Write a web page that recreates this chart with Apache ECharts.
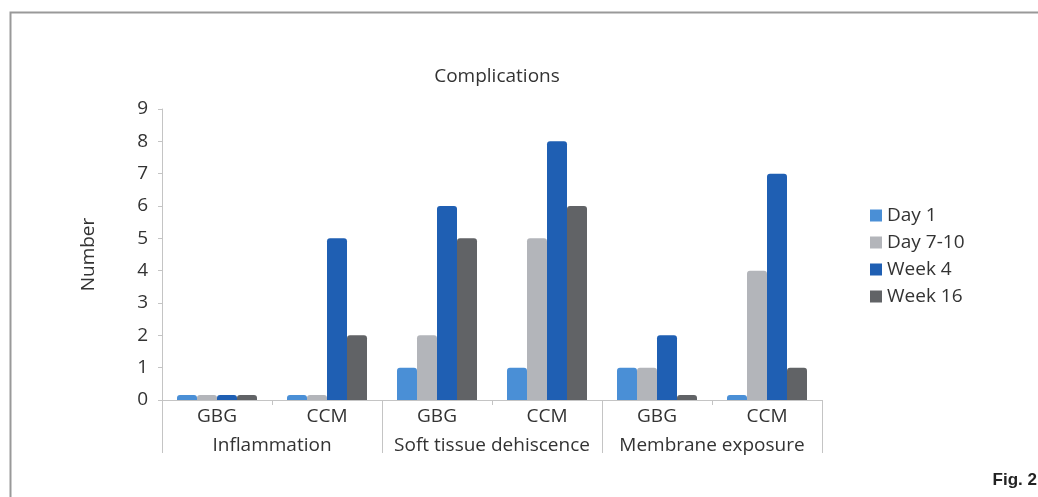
<!DOCTYPE html>
<html>
<head>
<meta charset="UTF-8">
<title>Complications</title>
<script src="https://cdn.jsdelivr.net/npm/echarts@6/dist/echarts.min.js"></script>
<style>
  html, body { margin: 0; padding: 0; background: #fff; }
  #main { width: 1038px; height: 497px; }
</style>
</head>
<body>
<div id="main"></div>
<script>
// data
var groups = ['GBG', 'CCM', 'GBG', 'CCM', 'GBG', 'CCM'];
var complications = ['Inflammation', 'Soft tissue dehiscence', 'Membrane exposure'];
var day1 = [0, 0, 1, 1, 1, 0];
var day7to10 = [0, 0, 2, 5, 1, 4];
var week4 = [0, 5, 6, 8, 2, 7];
var week16 = [0, 2, 5, 6, 0, 1];
var yTicks = [0, 1, 2, 3, 4, 5, 6, 7, 8, 9];

var font = 'Open Sans';
var fs = 19;
var colors = ['#4a8fd6', '#b3b5ba', '#1f5fb3', '#616366'];

var chart = echarts.init(document.getElementById('main'));

function bar(name, data) {
    return {
        name: name,
        type: 'bar',
        data: data,
        barWidth: 20,
        barGap: '0%',
        barMinHeight: 5,
        itemStyle: { borderRadius: [3, 3, 0, 0] }
    };
}

chart.setOption({
    color: colors,
    animation: false,
    textStyle: { fontFamily: font },
    title: {
        text: 'Complications',
        left: 492,
        textAlign: 'center',
        top: 62,
        textStyle: { fontFamily: font, fontSize: fs, fontWeight: 'normal', color: '#333' }
    },
    legend: {
        orient: 'vertical',
        left: 865,
        top: 201,
        itemWidth: 12,
        itemHeight: 12,
        itemGap: 8,
        icon: 'rect',
        textStyle: { fontFamily: font, fontSize: fs, color: '#333' },
        data: ['Day 1', 'Day 7-10', 'Week 4', 'Week 16']
    },
    grid: { left: 162, right: 216, top: 109, bottom: 97 },
    xAxis: [{
        type: 'category',
        data: groups,
        axisLine: { show: true, lineStyle: { color: '#c4c4c4' } },
        axisTick: { show: true, length: 5, lineStyle: { color: '#c4c4c4' } },
        axisLabel: { interval: 0, margin: 7, fontSize: fs, color: '#333', fontFamily: font }
    }, {
        type: 'category',
        data: complications,
        position: 'bottom',
        axisLine: { show: true, lineStyle: { color: 'rgba(0,0,0,0)' } },
        axisTick: { show: true, interval: 0, length: 53, lineStyle: { color: '#c4c4c4' } },
        axisLabel: { interval: 0, margin: 36, fontSize: fs, color: '#333', fontFamily: font }
    }],
    yAxis: {
        type: 'value',
        min: 0,
        max: 9,
        interval: 1,
        name: 'Number',
        nameLocation: 'middle',
        nameGap: 64,
        nameRotate: 90,
        nameTextStyle: { fontSize: fs, color: '#333', fontFamily: font },
        axisLine: { show: true, lineStyle: { color: '#c4c4c4' } },
        axisTick: { show: true, length: 4, lineStyle: { color: '#c4c4c4' } },
        splitLine: { show: false },
        axisLabel: {
            margin: 14, fontSize: fs, color: '#333', fontFamily: font,
            formatter: function (v) { return yTicks.indexOf(v) >= 0 ? String(v) : ''; }
        }
    },
    graphic: [{
        type: 'rect',
        left: 8,
        top: 10,
        shape: { width: 1100, height: 600 },
        style: { fill: 'none', stroke: '#999', lineWidth: 2 }
    }, {
        type: 'text',
        right: 1,
        top: 472,
        style: {
            text: 'Fig. 2',
            font: 'bold 17px "Liberation Sans Narrow", "Liberation Sans", sans-serif',
            fill: '#222'
        }
    }],
    series: [
        bar('Day 1', day1),
        bar('Day 7-10', day7to10),
        bar('Week 4', week4),
        bar('Week 16', week16)
    ]
});
</script>
</body>
</html>
